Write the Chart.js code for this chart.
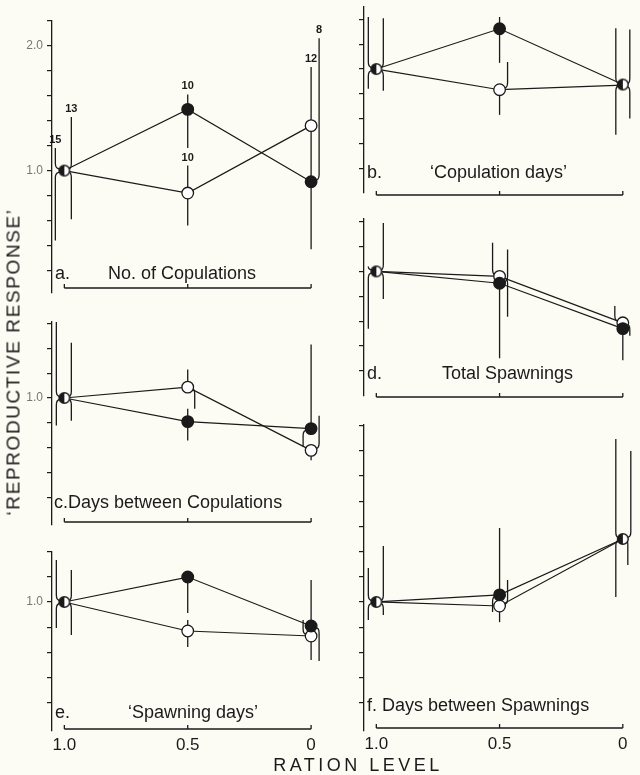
<!DOCTYPE html>
<html><head><meta charset="utf-8">
<script src="https://cdn.jsdelivr.net/npm/chart.js@4.4.0/dist/chart.umd.min.js"></script>
<style>
html,body{margin:0;padding:0;background:#fcfcf4;}
#wrap{position:relative;width:640px;height:775px;overflow:hidden;font-family:"Liberation Sans",Arial,sans-serif;color:#1a1a1a;}
canvas{position:absolute;}
.t{position:absolute;font-size:18px;white-space:nowrap;transform:translateY(-50%);line-height:1;z-index:5;}
</style></head><body><div id="wrap">
<canvas id="pa"></canvas><canvas id="pb"></canvas><canvas id="pc"></canvas>
<canvas id="pd"></canvas><canvas id="pe"></canvas><canvas id="pf"></canvas>
<div class="t" style="left:55px;top:273px">a.</div>
<div class="t" style="left:108px;top:273px">No. of Copulations</div>
<div class="t" style="left:367px;top:172px">b.</div>
<div class="t" style="left:430px;top:172px">‘Copulation days’</div>
<div class="t" style="left:54px;top:502px">c.Days between Copulations</div>
<div class="t" style="left:367px;top:373px">d.</div>
<div class="t" style="left:442px;top:373px">Total Spawnings</div>
<div class="t" style="left:55px;top:712px">e.</div>
<div class="t" style="left:128px;top:712px">‘Spawning days’</div>
<div class="t" style="left:367px;top:705px">f. Days between Spawnings</div>
<div class="t" style="left:358px;top:765px;transform:translate(-50%,-50%);letter-spacing:3.5px;">RATION LEVEL</div>
<div class="t" style="left:13px;top:362px;transform:translate(-50%,-50%) rotate(-90deg);font-size:19px;letter-spacing:1.6px;">‘REPRODUCTIVE RESPONSE’</div>
</div>
<script>
// ---- data ----
const RATION = [1.0, 0.5, 0];
const RATION_TICKS = ['1.0', '0.5', '0'];
const Y_LABELS_A = [2.0, 1.0];
const Y_LABELS_CE = [1.0];

// a. No. of Copulations
const A_CLOSED = [1.0, 1.49, 0.91];
const A_OPEN = [1.0, 0.82, 1.36];
const A_CLOSED_ERR = [[0.44, 1.18], [1.18, 1.61], [0.37, 2.06]];
const A_OPEN_ERR = [[0.61, 1.43], [0.56, 1.04], [0.95, 1.83]];
const A_CLOSED_N = [15, 10, 8];
const A_OPEN_N = [13, 10, 12];

// b. Copulation days
const B_CLOSED = [1.0, 1.325, 0.875];
const B_OPEN = [1.0, 0.833, 0.87];
const B_CLOSED_ERR = [[0.84, 1.42], [1.05, 1.42], [0.47, 1.33]];
const B_OPEN_ERR = [[0.825, 1.41], [0.63, 1.056], [0.6, 1.32]];

// c. Days between Copulations
const C_CLOSED = [1.0, 0.81, 0.754];
const C_OPEN = [1.0, 1.087, 0.579];
const C_CLOSED_ERR = [[0.778, 1.611], [0.659, 0.913], [0.611, 1.429]];
const C_OPEN_ERR = [[0.817, 1.444], [0.913, 1.23], [0.5, 0.857]];

// d. Total Spawnings
const D_CLOSED = [1.0, 0.905, 0.54];
const D_OPEN = [1.0, 0.96, 0.587];
const D_CLOSED_ERR = [[0.54, 1.04], [0.302, 1.175], [0.286, 0.571]];
const D_OPEN_ERR = [[0.778, 1.389], [0.635, 1.23], [0.484, 0.722]];

// e. Spawning days
const E_CLOSED = [1.0, 1.198, 0.81];
const E_OPEN = [1.0, 0.77, 0.73];
const E_CLOSED_ERR = [[0.794, 1.333], [0.913, 1.198], [0.532, 1.175]];
const E_OPEN_ERR = [[0.738, 1.254], [0.643, 0.857], [0.54, 0.857]];

// f. Days between Spawnings
const F_CLOSED = [1.0, 1.056, 1.5];
const F_OPEN = [1.0, 0.968, 1.5];
const F_CLOSED_ERR = [[0.857, 1.27], [0.92, 1.587], [1.294, 2.198]];
const F_OPEN_ERR = [[0.897, 1.444], [0.84, 1.175], [1.04, 2.294]];

// ---- style: horizontal offsets of error bar arms [upper, lower] in px ----
const OFF = {
  a: {c: [[-9,-9],[0,0],[8,0]], o: [[7,7],[0,0],[0,0]]},
  b: {c: [[-8,-8],[0,0],[-7,-7]], o: [[7,7],[8,0],[7,7]]},
  c: {c: [[-8,-8],[0,0],[0,-8]], o: [[7,7],[0,7],[8,0]]},
  d: {c: [[-8,-8],[8,0],[0,0]], o: [[7,7],[-7,8],[-8,7]]},
  e: {c: [[-8,-8],[0,0],[0,8]], o: [[7,7],[0,0],[-8,0]]},
  f: {c: [[-8,-8],[0,-7],[8,5]], o: [[7,7],[8,0],[-7,-7]]}
};

// ---- layout ----
const INK = '#1a1a1a';
const FONT = '"Liberation Sans", Arial, sans-serif';
const YPX = 126, XPX = 253;
const LAYOUT = {
  a: {cv: [0, 0, 340, 300], axisX: 52, top: 20.8, ymin: 0.02, ymax: 2.2, bracket: 288, ylab: Y_LABELS_A},
  b: {cv: [320, 0, 320, 200], axisX: 364, top: 7, ymin: 0.0, ymax: 1.5, bracket: 195, ylab: []},
  c: {cv: [0, 308, 340, 224], axisX: 52, top: 322.1, ymin: -0.02, ymax: 1.61, bracket: 522, ylab: Y_LABELS_CE},
  d: {cv: [320, 205, 320, 198], axisX: 364, top: 219.1, ymin: 0.0, ymax: 1.42, bracket: 397, ylab: []},
  e: {cv: [0, 540, 340, 230], axisX: 52, top: 551.6, ymin: -0.02, ymax: 1.4, bracket: 729, ylab: Y_LABELS_CE, xticks: true},
  f: {cv: [320, 410, 320, 360], axisX: 364, top: 424.3, ymin: -0.02, ymax: 2.41, bracket: 728, ylab: [], xticks: true}
};

const PANELS = {
  a: {closed: A_CLOSED, open: A_OPEN, cErr: A_CLOSED_ERR, oErr: A_OPEN_ERR, cN: A_CLOSED_N, oN: A_OPEN_N},
  b: {closed: B_CLOSED, open: B_OPEN, cErr: B_CLOSED_ERR, oErr: B_OPEN_ERR},
  c: {closed: C_CLOSED, open: C_OPEN, cErr: C_CLOSED_ERR, oErr: C_OPEN_ERR},
  d: {closed: D_CLOSED, open: D_OPEN, cErr: D_CLOSED_ERR, oErr: D_OPEN_ERR},
  e: {closed: E_CLOSED, open: E_OPEN, cErr: E_CLOSED_ERR, oErr: E_OPEN_ERR},
  f: {closed: F_CLOSED, open: F_OPEN, cErr: F_CLOSED_ERR, oErr: F_OPEN_ERR}
};

// half-filled marker for coincident closed/open points
const HALF = (() => {
  const c = document.createElement('canvas'); c.width = 14; c.height = 14;
  const g = c.getContext('2d');
  g.beginPath(); g.arc(7, 7, 5.3, 0, Math.PI * 2); g.fillStyle = '#fff'; g.fill();
  g.beginPath(); g.arc(7, 7, 5.3, Math.PI / 2, Math.PI * 1.5); g.closePath(); g.fillStyle = INK; g.fill();
  g.beginPath(); g.arc(7, 7, 5.3, 0, Math.PI * 2); g.lineWidth = 1.5; g.strokeStyle = INK; g.stroke();
  return c;
})();

function seg(ctx, px, py, yEnd, dx, dir) {
  const len = (yEnd - py) * dir;
  if (len < 1) return;
  ctx.beginPath();
  if (dx === 0) {
    ctx.moveTo(px, py); ctx.lineTo(px, yEnd);
  } else {
    const s = Math.sign(dx);
    const bend = Math.min(7, len);
    ctx.moveTo(px + s * 4, py + dir * 1.5);
    ctx.quadraticCurveTo(px + dx, py + dir * 1.5, px + dx, py + dir * bend);
    if (len > bend) ctx.lineTo(px + dx, yEnd);
  }
  ctx.stroke();
}

const errPlugin = {
  id: 'errbars',
  beforeDatasetsDraw(chart, args, o) {
    const ctx = chart.ctx, xs = chart.scales.x, ys = chart.scales.y;
    ctx.save();
    ctx.strokeStyle = INK; ctx.lineWidth = 1.3; ctx.lineCap = 'butt';
    o.bars.forEach(b => {
      RATION.forEach((r, i) => {
        const px = xs.getPixelForValue(r), py = ys.getPixelForValue(b.pts[i]);
        const [lo, hi] = b.err[i], [du, dl] = b.off[i];
        seg(ctx, px, py, ys.getPixelForValue(hi), du, -1);
        seg(ctx, px, py, ys.getPixelForValue(lo), dl, 1);
      });
    });
    // bracket x axis
    const yb = o.bracketY;
    const x1 = xs.getPixelForValue(RATION[0]), x0 = xs.getPixelForValue(RATION[RATION.length - 1]);
    ctx.lineWidth = 1.3;
    ctx.beginPath();
    ctx.moveTo(x1, yb); ctx.lineTo(x0, yb); ctx.stroke();
    RATION.forEach(r => {
      const px = xs.getPixelForValue(r);
      ctx.beginPath(); ctx.moveTo(px, yb); ctx.lineTo(px, yb - 4); ctx.stroke();
    });
    if (o.xticks) {
      ctx.fillStyle = INK; ctx.font = '17px ' + FONT;
      ctx.textAlign = 'center'; ctx.textBaseline = 'middle';
      RATION.forEach((r, i) => ctx.fillText(RATION_TICKS[i], xs.getPixelForValue(r), yb + 16));
    }
    ctx.restore();
  },
  afterDatasetsDraw(chart, args, o) {
    const ctx = chart.ctx, xs = chart.scales.x, ys = chart.scales.y;
    ctx.save();
    ctx.fillStyle = INK; ctx.font = 'bold 11px ' + FONT;
    ctx.textAlign = 'center'; ctx.textBaseline = 'middle';
    o.bars.forEach(b => {
      if (!b.n) return;
      RATION.forEach((r, i) => {
        const px = xs.getPixelForValue(r) + b.off[i][0];
        const yh = ys.getPixelForValue(b.err[i][1]);
        ctx.fillText(String(b.n[i]), px, yh - 8);
      });
    });
    ctx.restore();
  }
};

function build(key) {
  const L = LAYOUT[key], P = PANELS[key], off = OFF[key];
  const [cl, ct, cw, ch] = L.cv;
  const cv = document.getElementById('p' + key);
  cv.width = cw; cv.height = ch;
  cv.style.left = cl + 'px'; cv.style.top = ct + 'px';
  cv.style.width = cw + 'px'; cv.style.height = ch + 'px';
  const axisW = L.axisX - cl;
  const padTop = L.top - ct;
  const bottom = L.top + (L.ymax - L.ymin) * YPX;
  const padBottom = ct + ch - bottom;
  const xmax = 1.05;
  const xmin = xmax - (cw - axisW) / XPX;
  const mk = (vals) => RATION.map((x, i) => ({x: x, y: vals[i]}));
  const coincident = P.closed.map((v, i) => Math.abs(v - P.open[i]) < 0.012);
  new Chart(cv, {
    type: 'line',
    data: {
      datasets: [
        {data: mk(P.closed), borderColor: INK, borderWidth: 1.2, pointRadius: 5.8, pointBorderWidth: 1.3,
         pointBorderColor: INK, pointBackgroundColor: INK, tension: 0, fill: false,
         pointStyle: coincident.map(c => c ? HALF : 'circle')},
        {data: mk(P.open), borderColor: INK, borderWidth: 1.2, pointRadius: 5.8, pointBorderWidth: 1.3,
         pointBorderColor: INK, pointBackgroundColor: '#ffffff', tension: 0, fill: false,
         pointStyle: coincident.map(c => c ? false : 'circle')}
      ]
    },
    options: {
      responsive: false, animation: false, devicePixelRatio: 1, events: [],
      layout: {padding: {top: padTop, bottom: padBottom, left: 0, right: 0}},
      plugins: {
        legend: {display: false}, tooltip: {enabled: false},
        errbars: {
          bracketY: L.bracket - ct, xticks: !!L.xticks,
          bars: [
            {pts: P.closed, err: P.cErr, off: off.c, n: P.cN},
            {pts: P.open, err: P.oErr, off: off.o, n: P.oN}
          ]
        }
      },
      scales: {
        x: {type: 'linear', reverse: true, min: xmin, max: xmax, display: false},
        y: {
          type: 'linear', position: 'left', min: L.ymin, max: L.ymax,
          afterFit(s) { s.width = axisW; s.paddingTop = 0; s.paddingBottom = 0; },
          afterBuildTicks(s) { s.ticks = s.ticks.filter(t => t.value > 0.1); },
          ticks: {
            stepSize: 0.2, includeBounds: false, autoSkip: false, padding: 4,
            color: '#777', font: {size: 12, family: FONT},
            callback: v => L.ylab.some(l => Math.abs(l - v) < 1e-6) ? Number(v).toFixed(1) : ''
          },
          grid: {drawOnChartArea: false, drawTicks: true, tickLength: 5, color: INK, lineWidth: 1.2},
          border: {display: true, color: INK, width: 1.3}
        }
      }
    },
    plugins: [errPlugin]
  });
}
['a', 'b', 'c', 'd', 'e', 'f'].forEach(build);
</script>
</body></html>
